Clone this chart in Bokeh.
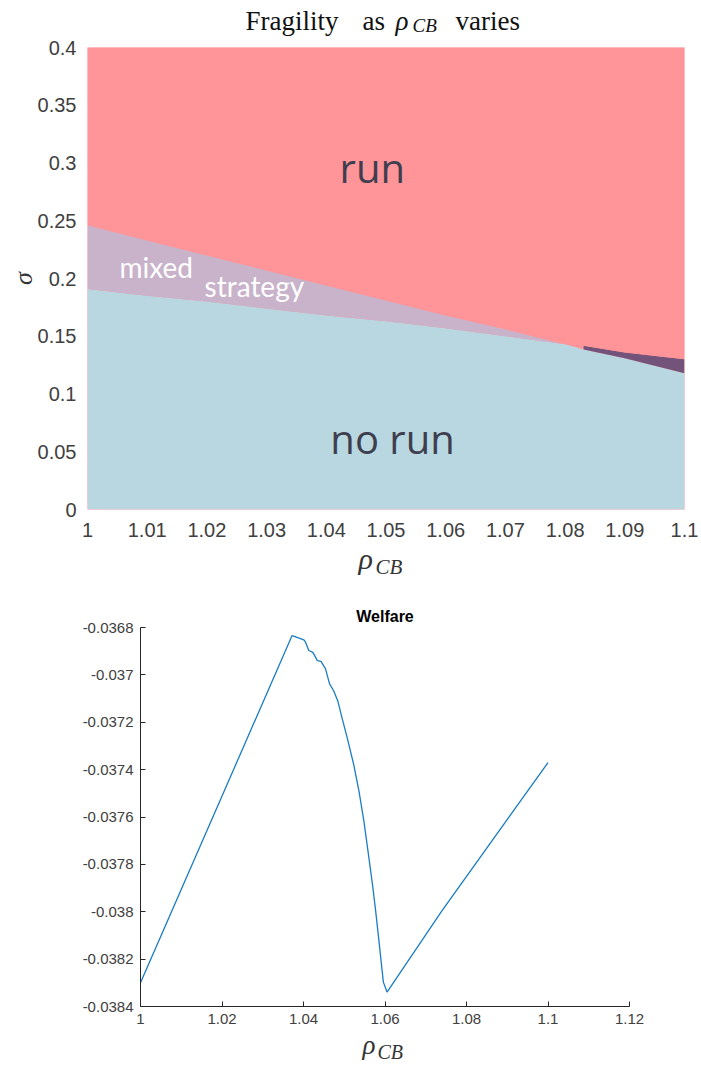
from bokeh.plotting import figure
from bokeh.models import FixedTicker, Label, Range1d
from bokeh.embed import file_html
from bokeh.resources import INLINE

# ---------------- Data: fragility regions (top panel) ----------------
rho_grid = [1.00, 1.01, 1.02, 1.03, 1.04, 1.05, 1.06, 1.07, 1.08, 1.0831, 1.09, 1.10]
sigma_norun_upper = [0.191, 0.185, 0.180, 0.174, 0.168, 0.163, 0.157, 0.150, 0.143, 0.1386, 0.131, 0.118]
sigma_run_lower = [0.246, 0.233, 0.220, 0.207, 0.194, 0.181, 0.168, 0.156, 0.143, 0.1418, 0.136, 0.130]
n_mixed = 9          # first points: mixed-strategy band; remaining: dark band
sigma_max = 0.4

frag_x_ticks = [1.0, 1.01, 1.02, 1.03, 1.04, 1.05, 1.06, 1.07, 1.08, 1.09, 1.1]
frag_x_labels = ["1", "1.01", "1.02", "1.03", "1.04", "1.05", "1.06", "1.07", "1.08", "1.09", "1.1"]
frag_y_ticks = [0.0, 0.05, 0.1, 0.15, 0.2, 0.25, 0.3, 0.35, 0.4]
frag_y_labels = ["0", "0.05", "0.1", "0.15", "0.2", "0.25", "0.3", "0.35", "0.4"]

# ---------------- Data: welfare (bottom panel) ----------------
rho_w = [1.0, 1.0372, 1.0401, 1.0405, 1.0413, 1.0423, 1.0434, 1.0443, 1.0454, 1.0464,
         1.0474, 1.0484, 1.0495, 1.0507, 1.0523, 1.0536, 1.0548, 1.0558, 1.0569, 1.0577,
         1.0585, 1.0591, 1.0596, 1.0605, 1.0740, 1.1]
welfare = [-0.03830, -0.036834, -0.036852, -0.036862, -0.036897, -0.036905, -0.036940,
           -0.036943, -0.036975, -0.037038, -0.037067, -0.037109, -0.037185, -0.037264,
           -0.037377, -0.037490, -0.037615, -0.037741, -0.037881, -0.037995, -0.038121,
           -0.038218, -0.038297, -0.038339, -0.037995, -0.037370]

welf_x_ticks = [1.0, 1.02, 1.04, 1.06, 1.08, 1.1, 1.12]
welf_x_labels = ["1", "1.02", "1.04", "1.06", "1.08", "1.1", "1.12"]
welf_y_ticks = [-0.0384, -0.0382, -0.038, -0.0378, -0.0376, -0.0374, -0.0372, -0.037, -0.0368]
welf_y_labels = ["-0.0384", "-0.0382", "-0.038", "-0.0378", "-0.0376", "-0.0374", "-0.0372", "-0.037", "-0.0368"]

# ---------------- Styles ----------------
RED = "#FF9599"
MIXED = "#C9B3CB"
BLUE = "#B9D7E1"
DARK = "#74537A"
SERIF = "Liberation Serif"
SANS = "Liberation Sans"
W = 701


def text_strip(h):
    f = figure(width=W, height=h, x_range=Range1d(0, W), y_range=Range1d(0, h),
               output_backend="svg", toolbar_location=None, min_border=0,
               x_axis_location=None, y_axis_location=None)
    f.outline_line_color = None
    f.grid.visible = False
    f.title.visible = False
    f.background_fill_color = "white"
    f.border_fill_color = "white"
    return f


def add_label(p, x, y, text, **kw):
    p.add_layout(Label(x=x, y=y, text=text, **kw))


# ---------------- Title strip ----------------
H_T = 36
t1 = text_strip(H_T)
tcol = "#111111"
add_label(t1, 245, 16, "Fragility", text_font=SERIF, text_font_size="27px", text_baseline="alphabetic", text_color=tcol)
add_label(t1, 362, 16, "as", text_font=SERIF, text_font_style="normal", text_font_size="27px", text_baseline="alphabetic", text_color=tcol)
add_label(t1, 395, 16, "ρ", text_font=SERIF, text_font_style="italic", text_font_size="27px", text_baseline="alphabetic", text_color=tcol)
add_label(t1, 412, 11, "CB", text_font=SERIF, text_font_style="italic", text_font_size="19px", text_baseline="alphabetic", text_color=tcol)
add_label(t1, 455, 16, "varies", text_font=SERIF, text_font_size="27px", text_baseline="alphabetic", text_color=tcol)

# ---------------- Top figure ----------------
p1 = figure(width=W, height=506, x_range=Range1d(1.0, 1.1), y_range=Range1d(0, sigma_max),
            output_backend="svg", toolbar_location=None,
            min_border_left=87, min_border_right=17, min_border_top=11, min_border_bottom=33)
p1.title.visible = False
p1.background_fill_color = RED
p1.border_fill_color = "white"
p1.outline_line_color = None
p1.grid.visible = False

p1.varea(x=rho_grid, y1=0, y2=sigma_norun_upper, fill_color=BLUE)
p1.varea(x=rho_grid[:n_mixed], y1=sigma_norun_upper[:n_mixed], y2=sigma_run_lower[:n_mixed], fill_color=MIXED)
p1.varea(x=rho_grid[n_mixed:], y1=sigma_norun_upper[n_mixed:], y2=sigma_run_lower[n_mixed:], fill_color=DARK)
p1.varea(x=rho_grid, y1=sigma_run_lower, y2=sigma_max, fill_color=RED)

p1.xaxis.ticker = FixedTicker(ticks=frag_x_ticks)
p1.xaxis.major_label_overrides = dict(zip(frag_x_ticks, frag_x_labels))
p1.yaxis.ticker = FixedTicker(ticks=frag_y_ticks)
p1.yaxis.major_label_overrides = dict(zip(frag_y_ticks, frag_y_labels))
for ax in (p1.xaxis, p1.yaxis):
    ax.axis_line_color = None
    ax.major_tick_line_color = None
    ax.minor_tick_line_color = None
    ax.major_label_text_font = SANS
    ax.major_label_text_font_size = "20px"
    ax.major_label_text_color = "#404040"
p1.xaxis.major_label_standoff = 7
p1.yaxis.major_label_standoff = 5
p1.yaxis.axis_label = "σ"
p1.yaxis.axis_label_text_font = SERIF
p1.yaxis.axis_label_text_font_style = "italic"
p1.yaxis.axis_label_text_font_size = "26px"
p1.yaxis.axis_label_text_color = "#333333"
p1.yaxis.axis_label_standoff = -3

# region texts
add_label(p1, 1.0477, 0.296, "run", text_font="Open Sans", text_font_size="40px", text_align="center", text_baseline="middle", text_color="#3E3E4E")
add_label(p1, 1.0511, 0.0616, "no run", text_font="Open Sans", text_font_size="40px", text_align="center", text_baseline="middle", text_color="#3E3E4E")
add_label(p1, 1.00536, 0.2102, "mixed", text_font="Lato", text_font_size="28px", text_baseline="alphabetic", text_color="white")
add_label(p1, 1.0196, 0.1932, "strategy", text_font="Lato", text_font_size="28px", text_baseline="alphabetic", text_color="white")

# ---------------- x-label strip for top figure ----------------
H_X1 = 50
x1 = text_strip(H_X1)
add_label(x1, 358, 34, "ρ", text_font=SERIF, text_font_style="italic", text_font_size="30px", text_baseline="alphabetic", text_color="#333333")
add_label(x1, 375, 26, "CB", text_font=SERIF, text_font_style="italic", text_font_size="21px", text_baseline="alphabetic", text_color="#333333")

# ---------------- Bottom figure ----------------
p2 = figure(width=W, height=438, x_range=Range1d(1.0, 1.12), y_range=Range1d(-0.0384, -0.0368),
            output_backend="svg", toolbar_location=None,
            min_border_left=140, min_border_right=72, min_border_top=35, min_border_bottom=24)
p2.outline_line_color = None
p2.grid.visible = False
p2.background_fill_color = "white"
p2.border_fill_color = "white"
p2.title.text = "Welfare"
p2.title.align = "center"
p2.title.text_font = SANS
p2.title.text_font_style = "bold"
p2.title.text_font_size = "16px"
p2.title.text_color = "black"
p2.title.standoff = 6

p2.line(rho_w, welfare, line_color="#1A7CC4", line_width=1.3)

p2.xaxis.ticker = FixedTicker(ticks=welf_x_ticks)
p2.xaxis.major_label_overrides = dict(zip(welf_x_ticks, welf_x_labels))
p2.yaxis.ticker = FixedTicker(ticks=welf_y_ticks)
p2.yaxis.major_label_overrides = dict(zip(welf_y_ticks, welf_y_labels))
for ax in (p2.xaxis, p2.yaxis):
    ax.axis_line_color = "#262626"
    ax.axis_line_width = 1
    ax.major_tick_line_color = "#262626"
    ax.major_tick_in = 5
    ax.major_tick_out = 0
    ax.minor_tick_line_color = None
    ax.major_label_text_font = SANS
    ax.major_label_text_font_size = "15px"
    ax.major_label_text_color = "#404040"
p2.xaxis.major_label_standoff = 7
p2.yaxis.major_label_standoff = 7

# ---------------- x-label strip for bottom figure ----------------
H_X2 = 1065 - H_T - 506 - H_X1 - 438
x2 = text_strip(H_X2)
add_label(x2, 362, 21, "ρ", text_font=SERIF, text_font_style="italic", text_font_size="27px", text_baseline="alphabetic", text_color="#333333")
add_label(x2, 377, 14, "CB", text_font=SERIF, text_font_style="italic", text_font_size="20px", text_baseline="alphabetic", text_color="#333333")

open("out.html", "w").write(file_html([t1, p1, x1, p2, x2], INLINE))
